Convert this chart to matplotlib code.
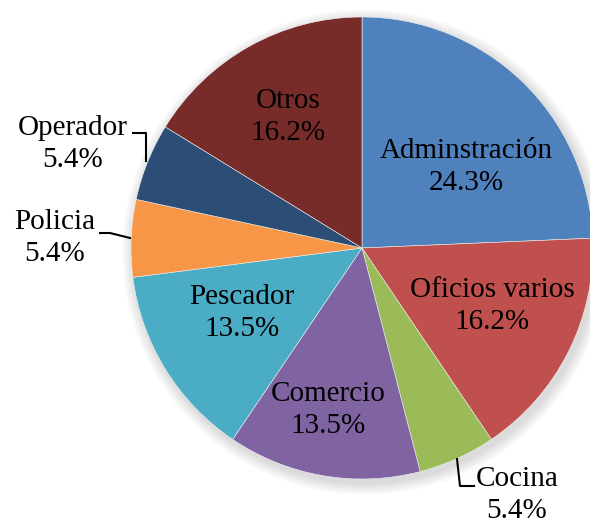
import matplotlib
matplotlib.use("Agg")
import matplotlib.pyplot as plt
from matplotlib.patches import Circle

# Occupation shares (%)
categories = ["Adminstración", "Oficios varios", "Cocina", "Comercio",
              "Pescador", "Policia", "Operador", "Otros"]
shares = [24.3, 16.2, 5.4, 13.5, 13.5, 5.4, 5.4, 16.2]
colors = ["#4F81BD", "#C0504D", "#9BBB59", "#8064A2",
          "#4BACC6", "#F79646", "#2C4D75", "#772C2A"]

W, H = 590, 525
fig = plt.figure(figsize=(W / 100, H / 100), dpi=100)
ax = fig.add_axes([0, 0, 1, 1])
ax.set_xlim(0, W)
ax.set_ylim(0, H)
ax.set_aspect("equal")
ax.axis("off")

plt.rcParams["font.family"] = ["Liberation Serif", "DejaVu Serif"]

cx, cy, r = 362, H - 248, 231

# soft shadow behind the pie
for i in range(12):
    ax.add_patch(Circle((cx + 3, cy - 4), r + 12 - i, color="black",
                        alpha=0.012, lw=0, zorder=0))

ax.pie(shares, colors=colors, startangle=90, counterclock=False,
       center=(cx, cy), radius=r, frame=True,
       wedgeprops=dict(edgecolor="#f0f0f0", linewidth=0.4))
ax.set_xlim(0, W)
ax.set_ylim(0, H)
ax.axis("off")

# label positions in pixel coords (x, y from top)
label_pos = {
    "Adminstración": (466, 167),
    "Oficios varios": (492, 306),
    "Cocina": (517, 495),
    "Comercio": (328, 410),
    "Pescador": (242, 313),
    "Policia": (55, 238),
    "Operador": (73, 144),
    "Otros": (288, 117),
}
for name, val in zip(categories, shares):
    x, y = label_pos[name]
    ax.text(x, H - y, f"{name}\n{val:.1f}%", ha="center", va="center",
            fontsize=21, linespacing=1.3, color="black", zorder=5)

# leader lines for the outside labels
leaders = [
    [(457, 459), (460, 486), (474, 486)],
    [(100, 233), (110, 233), (130, 238)],
    [(133, 133), (146, 133), (146, 161)],
]
for pts in leaders:
    xs = [p[0] for p in pts]
    ys = [H - p[1] for p in pts]
    ax.plot(xs, ys, color="black", lw=1.5, zorder=5)

fig.savefig("out.png", dpi=100)
